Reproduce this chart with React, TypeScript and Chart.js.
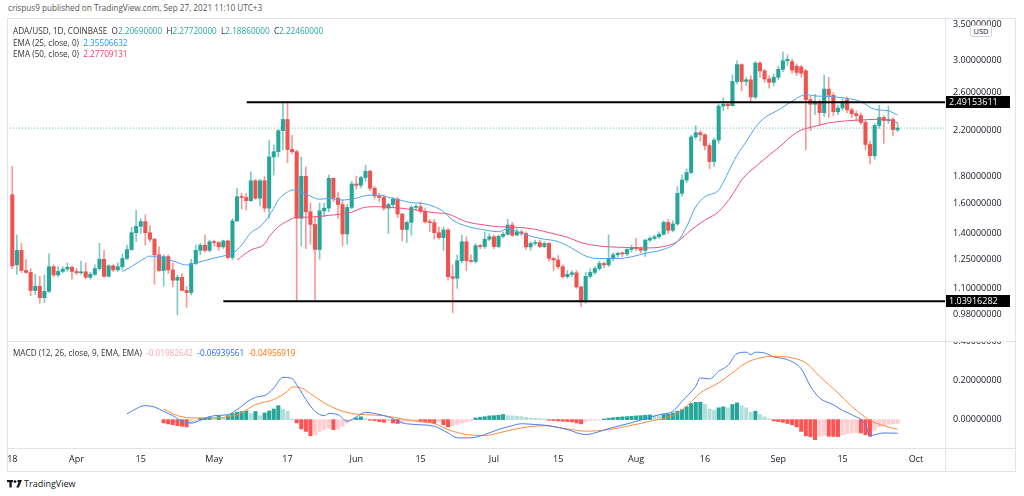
import React, { useEffect, useRef } from "react";
import { Chart, registerables } from "chart.js";

Chart.register(...registerables);

const FONT = "'Open Sans', 'Noto Sans', sans-serif";

// ---- Daily candles, ADA/USD 1D (day 0 = Mar 18, 2021) ----
const opens = [
  1.66, 1.22, 1.30, 1.19, 1.18, 1.09, 1.11, 1.056, 1.086, 1.21,
  1.167, 1.185, 1.197, 1.207, 1.185, 1.178, 1.183, 1.155, 1.17, 1.20,
  1.25, 1.16, 1.215, 1.193, 1.21, 1.255, 1.305, 1.405, 1.445, 1.475,
  1.405, 1.365, 1.275, 1.19, 1.265, 1.193, 1.14, 1.155, 1.09, 1.08,
  1.227, 1.30, 1.33, 1.30, 1.35, 1.345, 1.32, 1.355, 1.26, 1.48,
  1.645, 1.64, 1.617, 1.765, 1.635, 1.765, 1.565, 1.96, 2.005, 2.20,
  2.31, 2.025, 2.005, 1.497, 1.80, 1.54, 1.457, 1.305, 1.547, 1.565,
  1.784, 1.635, 1.59, 1.397, 1.57, 1.74, 1.73, 1.79, 1.84, 1.708,
  1.65, 1.64, 1.565, 1.59, 1.627, 1.525, 1.425, 1.47, 1.57, 1.575,
  1.543, 1.473, 1.468, 1.405, 1.375, 1.422, 1.158, 1.15, 1.242, 1.35,
  1.242, 1.238, 1.327, 1.322, 1.365, 1.38, 1.322, 1.383, 1.395, 1.453,
  1.39, 1.41, 1.40, 1.32, 1.34, 1.345, 1.322, 1.34, 1.255, 1.246,
  1.21, 1.158, 1.17, 1.178, 1.107, 1.045, 1.16, 1.18, 1.20, 1.227,
  1.22, 1.255, 1.275, 1.283, 1.28, 1.305, 1.317, 1.31, 1.30, 1.36,
  1.37, 1.38, 1.395, 1.47, 1.42, 1.46, 1.67, 1.77, 1.83, 2.14,
  2.18, 2.16, 2.06, 1.92, 2.11, 2.45, 2.47, 2.455, 2.73, 2.94,
  2.73, 2.75, 2.55, 2.96, 2.86, 2.76, 2.72, 2.78, 2.88, 2.99,
  2.98, 2.92, 2.91, 2.86, 2.52, 2.47, 2.50, 2.38, 2.64, 2.57,
  2.39, 2.43, 2.52, 2.41, 2.37, 2.35, 2.28, 2.07, 1.97, 2.25,
  2.33, 2.30, 2.31, 2.2069,
];
const highs = [
  1.88, 1.39, 1.34, 1.25, 1.20, 1.17, 1.16, 1.167, 1.28, 1.22,
  1.21, 1.21, 1.23, 1.215, 1.20, 1.24, 1.23, 1.18, 1.22, 1.34,
  1.30, 1.22, 1.22, 1.23, 1.28, 1.33, 1.44, 1.55, 1.495, 1.52,
  1.45, 1.37, 1.32, 1.275, 1.275, 1.23, 1.167, 1.175, 1.11, 1.25,
  1.33, 1.34, 1.39, 1.36, 1.36, 1.35, 1.36, 1.36, 1.495, 1.708,
  1.67, 1.67, 1.835, 1.776, 1.776, 1.797, 2.105, 2.065, 2.21, 2.50,
  2.50, 2.155, 2.02, 1.96, 1.877, 1.60, 1.507, 1.60, 1.60, 1.81,
  1.79, 1.68, 1.62, 1.59, 1.76, 1.80, 1.80, 1.89, 1.85, 1.72,
  1.67, 1.66, 1.60, 1.64, 1.64, 1.53, 1.48, 1.585, 1.59, 1.61,
  1.565, 1.49, 1.49, 1.44, 1.44, 1.43, 1.22, 1.275, 1.39, 1.38,
  1.275, 1.34, 1.335, 1.41, 1.40, 1.39, 1.39, 1.41, 1.49, 1.47,
  1.43, 1.42, 1.41, 1.35, 1.36, 1.36, 1.35, 1.345, 1.26, 1.27,
  1.22, 1.19, 1.19, 1.19, 1.11, 1.18, 1.20, 1.21, 1.24, 1.235,
  1.39, 1.285, 1.29, 1.29, 1.31, 1.33, 1.37, 1.32, 1.365, 1.38,
  1.39, 1.41, 1.48, 1.49, 1.48, 1.72, 1.81, 1.86, 2.155, 2.25,
  2.20, 2.17, 2.08, 2.13, 2.47, 2.54, 2.50, 2.81, 2.99, 2.95,
  2.78, 2.80, 2.98, 2.98, 2.88, 2.80, 2.82, 2.92, 3.11, 3.07,
  3.01, 2.95, 2.93, 2.88, 2.56, 2.58, 2.52, 2.81, 2.78, 2.60,
  2.46, 2.53, 2.55, 2.43, 2.40, 2.38, 2.30, 2.10, 2.27, 2.46,
  2.35, 2.45, 2.33, 2.2772,
];
const lows = [
  1.20, 1.17, 1.18, 1.175, 1.065, 1.07, 1.03, 1.033, 1.08, 1.156,
  1.157, 1.178, 1.185, 1.145, 1.17, 1.17, 1.147, 1.145, 1.165, 1.19,
  1.155, 1.157, 1.185, 1.185, 1.193, 1.246, 1.30, 1.35, 1.40, 1.33,
  1.35, 1.12, 1.185, 1.11, 1.175, 1.107, 0.98, 1.088, 1.012, 1.068,
  1.22, 1.275, 1.29, 1.29, 1.325, 1.30, 1.31, 1.25, 1.246, 1.475,
  1.56, 1.552, 1.61, 1.627, 1.58, 1.54, 1.497, 1.81, 1.96, 2.02,
  1.91, 1.99, 1.042, 1.325, 1.31, 1.335, 1.048, 1.25, 1.507, 1.54,
  1.61, 1.497, 1.325, 1.335, 1.56, 1.70, 1.71, 1.76, 1.69, 1.63,
  1.61, 1.55, 1.40, 1.57, 1.50, 1.355, 1.345, 1.39, 1.55, 1.53,
  1.465, 1.41, 1.365, 1.365, 1.30, 1.14, 0.988, 1.10, 1.23, 1.19,
  1.235, 1.23, 1.31, 1.31, 1.355, 1.31, 1.315, 1.375, 1.39, 1.38,
  1.385, 1.385, 1.305, 1.30, 1.33, 1.315, 1.315, 1.24, 1.19, 1.20,
  1.15, 1.15, 1.16, 1.10, 1.015, 1.03, 1.15, 1.17, 1.19, 1.205,
  1.21, 1.24, 1.26, 1.265, 1.27, 1.29, 1.30, 1.285, 1.265, 1.35,
  1.36, 1.37, 1.39, 1.40, 1.41, 1.45, 1.65, 1.75, 1.82, 2.12,
  2.10, 2.02, 1.86, 1.88, 2.08, 2.40, 2.42, 2.45, 2.70, 2.62,
  2.68, 2.50, 2.53, 2.78, 2.72, 2.65, 2.68, 2.75, 2.85, 2.93,
  2.83, 2.80, 2.78, 2.02, 2.20, 2.36, 2.25, 2.34, 2.33, 2.35,
  2.36, 2.40, 2.38, 2.33, 2.30, 2.26, 2.02, 1.90, 1.94, 2.22,
  2.08, 2.27, 2.15, 2.1886,
];
const closes = [
  1.214, 1.30, 1.19, 1.18, 1.09, 1.11, 1.056, 1.086, 1.21, 1.167,
  1.185, 1.197, 1.207, 1.185, 1.178, 1.183, 1.155, 1.17, 1.20, 1.25,
  1.16, 1.215, 1.193, 1.21, 1.255, 1.305, 1.405, 1.445, 1.475, 1.405,
  1.365, 1.275, 1.19, 1.265, 1.193, 1.14, 1.155, 1.09, 1.08, 1.227,
  1.30, 1.33, 1.30, 1.35, 1.345, 1.32, 1.355, 1.26, 1.48, 1.645,
  1.64, 1.617, 1.765, 1.635, 1.765, 1.565, 1.96, 2.005, 2.20, 2.31,
  2.025, 2.005, 1.497, 1.80, 1.54, 1.457, 1.305, 1.547, 1.565, 1.784,
  1.635, 1.59, 1.397, 1.57, 1.74, 1.73, 1.79, 1.84, 1.708, 1.65,
  1.64, 1.565, 1.59, 1.627, 1.525, 1.425, 1.47, 1.57, 1.575, 1.543,
  1.473, 1.468, 1.405, 1.375, 1.422, 1.158, 1.15, 1.242, 1.35, 1.242,
  1.238, 1.327, 1.322, 1.365, 1.38, 1.322, 1.383, 1.395, 1.453, 1.39,
  1.41, 1.40, 1.32, 1.34, 1.345, 1.322, 1.34, 1.255, 1.246, 1.21,
  1.158, 1.17, 1.178, 1.107, 1.045, 1.16, 1.18, 1.20, 1.227, 1.22,
  1.255, 1.275, 1.283, 1.28, 1.305, 1.317, 1.31, 1.30, 1.36, 1.37,
  1.38, 1.395, 1.47, 1.42, 1.46, 1.67, 1.77, 1.83, 2.14, 2.18,
  2.16, 2.06, 1.92, 2.11, 2.45, 2.47, 2.455, 2.73, 2.94, 2.73,
  2.75, 2.55, 2.96, 2.86, 2.76, 2.72, 2.78, 2.88, 2.99, 3.01,
  2.87, 2.84, 2.83, 2.52, 2.47, 2.50, 2.38, 2.64, 2.57, 2.39,
  2.43, 2.50, 2.41, 2.37, 2.35, 2.28, 2.07, 1.97, 2.25, 2.33,
  2.30, 2.31, 2.21, 2.2246,
];

// ---- EMA lines (at sample days) ----
const ema25Days = [24, 26, 29, 30, 32, 34, 36, 38, 40, 42, 44, 46, 48, 50, 52, 54, 56, 57, 58, 60, 61, 63, 65, 67, 69, 71, 74, 76, 78, 80, 82, 84, 87, 89, 92, 94, 96, 99, 103, 106, 108, 111, 115, 119, 122, 125, 128, 132, 135, 138, 142, 145, 147, 149, 151, 154, 156, 158, 160, 162, 164, 167, 169, 171, 173, 175, 178, 182, 185, 188, 191, 193];
const ema25Vals = [1.184, 1.211, 1.257, 1.268, 1.26, 1.249, 1.232, 1.219, 1.23, 1.243, 1.257, 1.268, 1.283, 1.33, 1.405, 1.442, 1.513, 1.564, 1.622, 1.68, 1.695, 1.68, 1.65, 1.627, 1.634, 1.622, 1.627, 1.645, 1.657, 1.657, 1.641, 1.626, 1.603, 1.599, 1.575, 1.541, 1.485, 1.446, 1.422, 1.411, 1.43, 1.401, 1.37, 1.351, 1.312, 1.268, 1.254, 1.254, 1.264, 1.283, 1.306, 1.351, 1.442, 1.575, 1.645, 1.695, 1.825, 1.975, 2.095, 2.231, 2.327, 2.408, 2.471, 2.535, 2.578, 2.562, 2.555, 2.535, 2.498, 2.415, 2.4, 2.35506632];
const ema50Days = [49, 52, 55, 56, 58, 60, 62, 64, 67, 69, 71, 74, 76, 79, 82, 85, 88, 92, 95, 99, 103, 106, 110, 114, 117, 121, 124, 128, 132, 135, 138, 142, 145, 148, 151, 154, 157, 159, 162, 165, 168, 170, 172, 174, 178, 182, 185, 188, 191, 193];
const ema50Vals = [1.246, 1.302, 1.337, 1.381, 1.442, 1.479, 1.504, 1.504, 1.509, 1.516, 1.522, 1.537, 1.564, 1.575, 1.571, 1.564, 1.552, 1.534, 1.525, 1.474, 1.453, 1.442, 1.439, 1.426, 1.405, 1.377, 1.345, 1.325, 1.318, 1.316, 1.314, 1.322, 1.351, 1.422, 1.485, 1.541, 1.66, 1.771, 1.877, 1.975, 2.075, 2.152, 2.206, 2.231, 2.276, 2.297, 2.305, 2.311, 2.305, 2.27709131];

// ---- MACD (12, 26, 9) ----
const macdDays = [25, 29, 31, 33, 35, 37, 39, 41, 44, 47, 49, 52, 54, 55, 57, 59, 61, 62, 64, 66, 68, 69, 71, 73, 75, 77, 79, 82, 85, 88, 92, 95, 97, 100, 103, 106, 109, 111, 114, 117, 121, 125, 127, 130, 134, 138, 141, 144, 146, 149, 150, 152, 154, 156, 158, 160, 161, 162, 164, 166, 169, 172, 174, 176, 179, 181, 183, 186, 187, 190, 193];
const macdVals = [0.03, 0.071, 0.064, 0.042, 0.02, -0.008, -0.017, -0.004, 0.02, 0.025, 0.051, 0.102, 0.119, 0.122, 0.161, 0.215, 0.209, 0.178, 0.102, 0.042, 0.02, 0.031, 0.025, -0.008, 0.014, 0.037, 0.031, 0.014, -0.017, -0.025, -0.034, -0.068, -0.093, -0.093, -0.076, -0.05, -0.031, -0.021, -0.025, -0.031, -0.051, -0.076, -0.068, -0.046, -0.022, 0.004, 0.025, 0.042, 0.093, 0.17, 0.212, 0.207, 0.246, 0.275, 0.336, 0.343, 0.331, 0.343, 0.339, 0.319, 0.305, 0.258, 0.17, 0.11, 0.076, 0.047, 0.025, -0.025, -0.081, -0.068, -0.06939561];
const signalDays = [33, 36, 40, 43, 47, 50, 53, 57, 60, 61, 63, 65, 68, 71, 74, 77, 81, 85, 88, 92, 95, 99, 103, 106, 111, 116, 121, 125, 130, 134, 139, 144, 147, 150, 154, 157, 160, 163, 166, 170, 173, 176, 180, 183, 187, 190, 193];
const signalVals = [0.054, 0.02, 0.0085, 0.0085, 0.014, 0.034, 0.076, 0.102, 0.144, 0.166, 0.161, 0.132, 0.085, 0.051, 0.031, 0.025, 0.02, 0.0035, -0.0085, -0.02, -0.051, -0.076, -0.081, -0.068, -0.042, -0.031, -0.047, -0.059, -0.051, -0.034, -0.0085, 0.02, 0.068, 0.136, 0.187, 0.238, 0.289, 0.314, 0.322, 0.314, 0.289, 0.22, 0.136, 0.068, -0.0035, -0.031, -0.04956919];
const histStartDay = 33;
const histVals = [
  -0.017, -0.022, -0.026, -0.031, -0.034, -0.037, -0.02, -0.01, 0.007, 0.0085,
  0.014, 0.012, 0.017, 0.01, 0.02, 0.031, 0.037, 0.041, 0.044, 0.031,
  0.041, 0.02, 0.034, 0.044, 0.054, 0.071, 0.054, 0.043, 0.002, -0.017,
  -0.048, -0.06, -0.082, -0.077, -0.06, -0.051, -0.043, -0.051, -0.048, -0.034,
  -0.017, -0.007, 0.0085, 0.014, 0.007, -0.0034, -0.005, -0.01, -0.014, -0.0085,
  -0.017, -0.02, -0.014, -0.01, -0.007, -0.005, -0.0085, -0.012, -0.015, -0.019,
  -0.01, -0.026, -0.037, -0.031, -0.024, -0.017, -0.012, -0.007, 0.0085, 0.012,
  0.015, 0.019, 0.02, 0.022, 0.026, 0.02, 0.019, 0.017, 0.015, 0.012,
  0.0085, 0.007, 0.005, 0.002, -0.0034, -0.005, -0.007, -0.0085, -0.01, -0.012,
  -0.017, -0.022, -0.0085, -0.005, -0.0034, -0.0017, 0.0034, 0.007, 0.01, 0.012,
  0.014, 0.015, 0.017, 0.019, 0.02, 0.022, 0.024, 0.02, 0.019, 0.026,
  0.027, 0.034, 0.043, 0.051, 0.065, 0.082, 0.088, 0.089, 0.077, 0.054,
  0.048, 0.06, 0.065, 0.06, 0.077, 0.085, 0.071, 0.06, 0.037, 0.043,
  0.026, 0.014, 0.0034, -0.007, -0.01, -0.014, -0.02, -0.026, -0.037, -0.06,
  -0.082, -0.088, -0.102, -0.085, -0.08, -0.085, -0.086, -0.087, -0.077, -0.072,
  -0.068, -0.065, -0.068, -0.077, -0.085, -0.054, -0.037, -0.031, -0.024, -0.022,
  -0.01982642,
];

// ---- Drawn levels, axis ticks ----
const levelValues = [2.49153611, 1.03916282];
const levelStartDays = [51.1, 46.0];
const priceTicks = [3.5, 3.0, 2.6, 2.2, 1.8, 1.6, 1.4, 1.25, 1.1, 0.98];
const macdTicks = [0.4, 0.2, 0];
const xTickDays = [0, 14, 28, 44, 60, 75, 89, 105, 119, 136, 151, 167, 181, 197];
const xTickLabels = ["18", "Apr", "15", "May", "17", "Jun", "15", "Jul", "15", "Aug", "16", "Sep", "15", "Oct"];

// ---- view ranges ----
const X_MIN = -1.155;
const X_MAX = 203.34;
const Y_MIN = 0.873;
const Y_MAX = 3.608;
const M_MIN = -0.1445;
const M_MAX = 0.4;

const UP = "#26a69a";
const DOWN = "#ef5350";
const UP_WICK = "rgba(38,166,154,0.6)";
const DOWN_WICK = "rgba(239,83,80,0.6)";
const EMA25_COLOR = "#4aa3f0";
const EMA50_COLOR = "#ef4f7f";
const MACD_COLOR = "#4a7cf6";
const SIGNAL_COLOR = "#ff8a3d";

const noPad = (s: any) => {
  s.paddingTop = 0;
  s.paddingBottom = 0;
  s.paddingLeft = 0;
  s.paddingRight = 0;
};

const levelLabels = {
  id: "levelLabels",
  afterDraw(chart: any) {
    const { ctx, chartArea, scales } = chart;
    ctx.save();
    ctx.font = `9px ${FONT}`;
    ctx.textBaseline = "middle";
    for (const v of levelValues) {
      const y = scales.y.getPixelForValue(v);
      ctx.fillStyle = "#000";
      ctx.fillRect(chartArea.right, Math.round(y - 6), 65, 12);
      ctx.fillStyle = "#fff";
      ctx.fillText(v.toFixed(8), chartArea.right + 4, y + 0.5);
    }
    ctx.restore();
  },
};

export default function App() {
  const mainRef = useRef<HTMLCanvasElement>(null);
  const macdRef = useRef<HTMLCanvasElement>(null);

  useEffect(() => {
    const days = closes.map((_, i) => i);
    const bodyColors = days.map((i) => (closes[i] >= opens[i] ? UP : DOWN));
    const wickColors = days.map((i) => (closes[i] >= opens[i] ? UP_WICK : DOWN_WICK));
    const last = closes.length - 1;

    const main = new Chart(mainRef.current!, {
      type: "line",
      data: {
        datasets: [
          ...levelValues.map((v, k) => ({
            type: "line" as const,
            data: [{ x: levelStartDays[k], y: v }, { x: X_MAX, y: v }],
            borderColor: "#000",
            borderWidth: 2,
            pointRadius: 0,
            order: 0,
          })),
          {
            type: "line" as const,
            data: ema25Days.map((d, i) => ({ x: d, y: ema25Vals[i] })),
            borderColor: EMA25_COLOR,
            borderWidth: 1,
            pointRadius: 0,
            cubicInterpolationMode: "monotone" as const,
            order: 1,
          },
          {
            type: "line" as const,
            data: ema50Days.map((d, i) => ({ x: d, y: ema50Vals[i] })),
            borderColor: EMA50_COLOR,
            borderWidth: 1,
            pointRadius: 0,
            cubicInterpolationMode: "monotone" as const,
            order: 2,
          },
          {
            type: "bar" as const,
            data: days.map((i) => ({ x: i, y: [opens[i], closes[i]] })),
            backgroundColor: bodyColors,
            barThickness: 3.4,
            grouped: false,
            minBarLength: 1,
            order: 3,
          },
          {
            type: "bar" as const,
            data: days.map((i) => ({ x: i, y: [lows[i], highs[i]] })),
            backgroundColor: wickColors,
            barThickness: 1,
            grouped: false,
            order: 4,
          },
          {
            type: "line" as const,
            data: [{ x: X_MIN, y: closes[last] }, { x: X_MAX, y: closes[last] }],
            borderColor: "rgba(38,166,154,0.7)",
            borderDash: [1, 2],
            borderWidth: 1,
            pointRadius: 0,
            order: 5,
          },
        ] as any,
      },
      options: {
        animation: false,
        responsive: false,
        maintainAspectRatio: false,
        events: [],
        layout: { autoPadding: false, padding: 0 },
        plugins: { legend: { display: false }, tooltip: { enabled: false } },
        scales: {
          x: { type: "linear", min: X_MIN, max: X_MAX, display: false, offset: false },
          y: {
            type: "logarithmic",
            position: "right",
            min: Y_MIN,
            max: Y_MAX,
            afterBuildTicks: (s: any) => {
              s.ticks = priceTicks.map((v) => ({ value: v }));
            },
            afterFit: (s: any) => {
              s.width = 70;
              noPad(s);
            },
            grid: { display: false, drawTicks: true, tickLength: 8 },
            border: { display: false },
            ticks: {
              autoSkip: false,
              padding: 0,
              color: "#131722",
              font: { family: FONT, size: 9 },
              callback: (v: any) => Number(v).toFixed(8),
            },
          },
        },
      } as any,
      plugins: [levelLabels],
    });

    const histColors = histVals.map((v, i) => {
      const prev = i > 0 ? histVals[i - 1] : 0;
      if (v >= 0) return v >= prev ? "#26a69a" : "#b2dfdb";
      return v <= prev ? "#ff5252" : "#ffcdd2";
    });

    const macd = new Chart(macdRef.current!, {
      type: "line",
      data: {
        datasets: [
          {
            type: "line" as const,
            data: macdDays.map((d, i) => ({ x: d, y: macdVals[i] })),
            borderColor: MACD_COLOR,
            borderWidth: 1,
            pointRadius: 0,
            cubicInterpolationMode: "monotone" as const,
            order: 0,
          },
          {
            type: "line" as const,
            data: signalDays.map((d, i) => ({ x: d, y: signalVals[i] })),
            borderColor: SIGNAL_COLOR,
            borderWidth: 1,
            pointRadius: 0,
            cubicInterpolationMode: "monotone" as const,
            order: 1,
          },
          {
            type: "bar" as const,
            data: histVals.map((v, i) => ({ x: histStartDay + i, y: v })),
            backgroundColor: histColors,
            barThickness: 3.4,
            grouped: false,
            order: 2,
          },
        ] as any,
      },
      options: {
        animation: false,
        responsive: false,
        maintainAspectRatio: false,
        events: [],
        layout: { autoPadding: false, padding: 0 },
        plugins: { legend: { display: false }, tooltip: { enabled: false } },
        scales: {
          x: {
            type: "linear",
            min: X_MIN,
            max: X_MAX,
            offset: false,
            afterBuildTicks: (s: any) => {
              s.ticks = xTickDays.map((v) => ({ value: v }));
            },
            afterFit: (s: any) => {
              s.height = 23;
              noPad(s);
            },
            grid: { display: false, drawTicks: true, tickLength: 6 },
            border: { display: false },
            ticks: {
              autoSkip: false,
              maxRotation: 0,
              padding: 0,
              color: "#131722",
              font: { family: FONT, size: 9 },
              callback: (_v: any, idx: number) => xTickLabels[idx],
            },
          },
          y: {
            type: "linear",
            position: "right",
            min: M_MIN,
            max: M_MAX,
            afterBuildTicks: (s: any) => {
              s.ticks = macdTicks.map((v) => ({ value: v }));
            },
            afterFit: (s: any) => {
              s.width = 70;
              noPad(s);
            },
            grid: { display: false, drawTicks: true, tickLength: 8 },
            border: { display: false },
            ticks: {
              autoSkip: false,
              padding: 0,
              color: "#131722",
              font: { family: FONT, size: 9 },
              callback: (v: any) => Number(v).toFixed(8),
            },
          },
        },
      } as any,
    });

    return () => {
      main.destroy();
      macd.destroy();
    };
  }, []);

  const last = closes.length - 1;
  const line = (top: number, left: number, width: number, height: number) => (
    <div style={{ position: "absolute", top, left, width, height, background: "#e0e3eb" }} />
  );
  const txt: React.CSSProperties = {
    position: "absolute",
    fontFamily: FONT,
    fontSize: 8.2,
    lineHeight: "12px",
    whiteSpace: "pre",
    color: "#333",
  };

  return (
    <div style={{ position: "absolute", left: 0, top: 0, width: 1024, height: 496, background: "#fff", overflow: "hidden" }}>
      <div style={{ ...txt, left: 8, top: 2, color: "#555" }}>
        crispus9 published on TradingView.com, Sep 27, 2021 11:10 UTC+3
      </div>
      <canvas ref={mainRef} width={1008} height={323} style={{ position: "absolute", left: 7, top: 18, width: 1008, height: 323 }} />
      <canvas ref={macdRef} width={1008} height={130} style={{ position: "absolute", left: 7, top: 341, width: 1008, height: 130 }} />

      {line(18, 7, 1009, 1)}
      {line(471, 7, 1009, 1)}
      {line(18, 7, 1, 454)}
      {line(18, 1015, 1, 454)}
      {line(341, 7, 1009, 1)}
      {line(448, 7, 1009, 1)}
      {line(18, 945, 1, 454)}

      <div style={{ ...txt, left: 13, top: 25 }}>
        {"ADA/USD, 1D, COINBASE  O"}
        <span style={{ color: UP }}>{opens[last].toFixed(8)}</span>
        {"  H"}
        <span style={{ color: UP }}>{highs[last].toFixed(8)}</span>
        {"  L"}
        <span style={{ color: UP }}>{lows[last].toFixed(8)}</span>
        {"  C"}
        <span style={{ color: UP }}>{closes[last].toFixed(8)}</span>
      </div>
      <div style={{ ...txt, left: 13, top: 37 }}>
        {"EMA (25, close, 0)  "}
        <span style={{ color: "#2196f3" }}>{ema25Vals[ema25Vals.length - 1].toFixed(8)}</span>
      </div>
      <div style={{ ...txt, left: 13, top: 48 }}>
        {"EMA (50, close, 0)  "}
        <span style={{ color: "#f23a6b" }}>{ema50Vals[ema50Vals.length - 1].toFixed(8)}</span>
      </div>
      <div style={{ ...txt, left: 13, top: 347 }}>
        {"MACD (12, 26, close, 9, EMA, EMA)  "}
        <span style={{ color: "#f7a8b4" }}>{histVals[histVals.length - 1].toFixed(8)}</span>
        {"  "}
        <span style={{ color: "#2962ff" }}>{macdVals[macdVals.length - 1].toFixed(8)}</span>
        {"  "}
        <span style={{ color: "#ff6d00" }}>{signalVals[signalVals.length - 1].toFixed(8)}</span>
      </div>

      <div
        style={{
          position: "absolute",
          left: 970,
          top: 25,
          width: 22,
          height: 12,
          boxSizing: "border-box",
          border: "1px solid #d1d4dc",
          borderRadius: 2,
          background: "#fff",
          fontFamily: FONT,
          fontSize: 7.5,
          lineHeight: "10px",
          textAlign: "center",
          color: "#131722",
        }}
      >
        USD
      </div>

      <svg style={{ position: "absolute", left: 7, top: 480 }} width={16} height={8} viewBox="0 0 16 8">
        <rect x={0} y={0} width={6} height={2.2} fill="#131722" />
        <rect x={2.4} y={0} width={2.3} height={7.5} fill="#131722" />
        <circle cx={8} cy={1.6} r={1.4} fill="#131722" />
        <polygon points="10.5,0 15,0 11.8,7.5 9.3,7.5 11.6,2.2 10.5,2.2" fill="#131722" />
      </svg>
      <div style={{ ...txt, left: 24, top: 478, fontSize: 9, color: "#131722" }}>TradingView</div>
    </div>
  );
}
